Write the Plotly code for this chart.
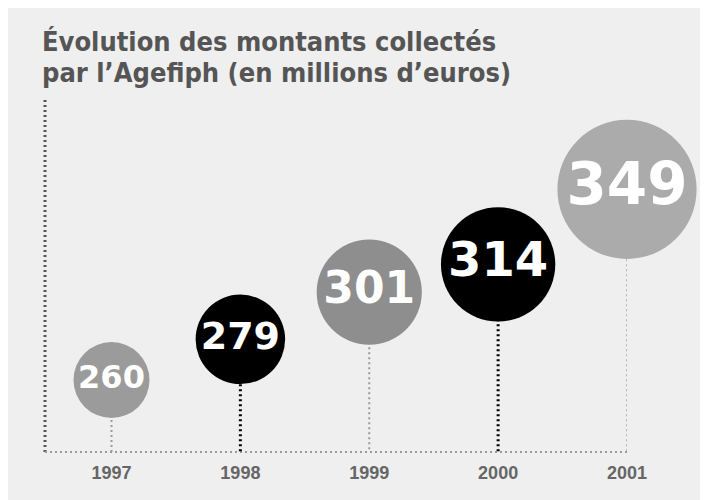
import plotly.graph_objects as go

years = ["1997", "1998", "1999", "2000", "2001"]
montants = [260, 279, 301, 314, 349]
bubble_colors = ["#9b9b9b", "#000000", "#8e8e8e", "#000000", "#ababab"]
stem_colors = ["#9a9a9a", "#000000", "#9a9a9a", "#000000", "#b0b0b0"]

title_1 = "Évolution des montants collectés"
title_2 = "par l’Agefiph (en millions d’euros)"

y_min, y_max = 226.4, 390.7

# bubble diameter grows with the amount
sizes = [76 + (v - 260) * 0.71 for v in montants]
font_sizes = [round(s * 0.42) for s in sizes]

fig = go.Figure()

# dotted stems from each bubble down to the baseline
for yr, v, c in zip(years, montants, stem_colors):
    black = c == "#000000"
    fig.add_trace(go.Scatter(
        x=[yr, yr], y=[v, y_min], mode="lines",
        line=dict(color=c, width=3 if black else 2, dash="2px,3px"),
        hoverinfo="skip", showlegend=False,
    ))

fig.add_trace(go.Scatter(
    x=years, y=montants, mode="markers+text",
    text=[str(v) for v in montants],
    textposition="middle center",
    textfont=dict(family="DejaVu Sans", size=font_sizes, color="white", weight="bold"),
    marker=dict(size=sizes, color=bubble_colors, opacity=1, line=dict(width=0)),
    cliponaxis=False, showlegend=False,
))

fig.update_xaxes(
    type="category", range=[-0.516, 4], showgrid=False, zeroline=False,
    showline=False, ticks="", ticklabelstandoff=8,
    tickfont=dict(family="Liberation Sans", size=18, color="#666666", weight="bold"),
)
fig.update_yaxes(range=[y_min, y_max], visible=False)

# dotted axis lines
fig.add_shape(type="line", xref="paper", yref="paper", x0=0, x1=0, y0=0, y1=1,
              line=dict(color="#555555", width=3, dash="2px,3px"), layer="below")
fig.add_shape(type="line", xref="paper", yref="paper", x0=0, x1=1, y0=0, y1=0,
              line=dict(color="#9a9a9a", width=2, dash="2px,3px"), layer="below")

for txt, yy in [(title_1, 1.165), (title_2, 1.0795)]:
    fig.add_annotation(
        text=txt, xref="paper", yref="paper", x=-0.008, y=yy,
        xanchor="left", yanchor="middle", showarrow=False,
        font=dict(family="DejaVu Sans Condensed", size=27,
                  color="#555555", weight="bold"),
    )

fig.update_layout(
    width=708, height=500,
    margin=dict(l=37, r=89, t=92, b=56),
    paper_bgcolor="#efefef", plot_bgcolor="#efefef",
)

fig.write_html("out.html")
